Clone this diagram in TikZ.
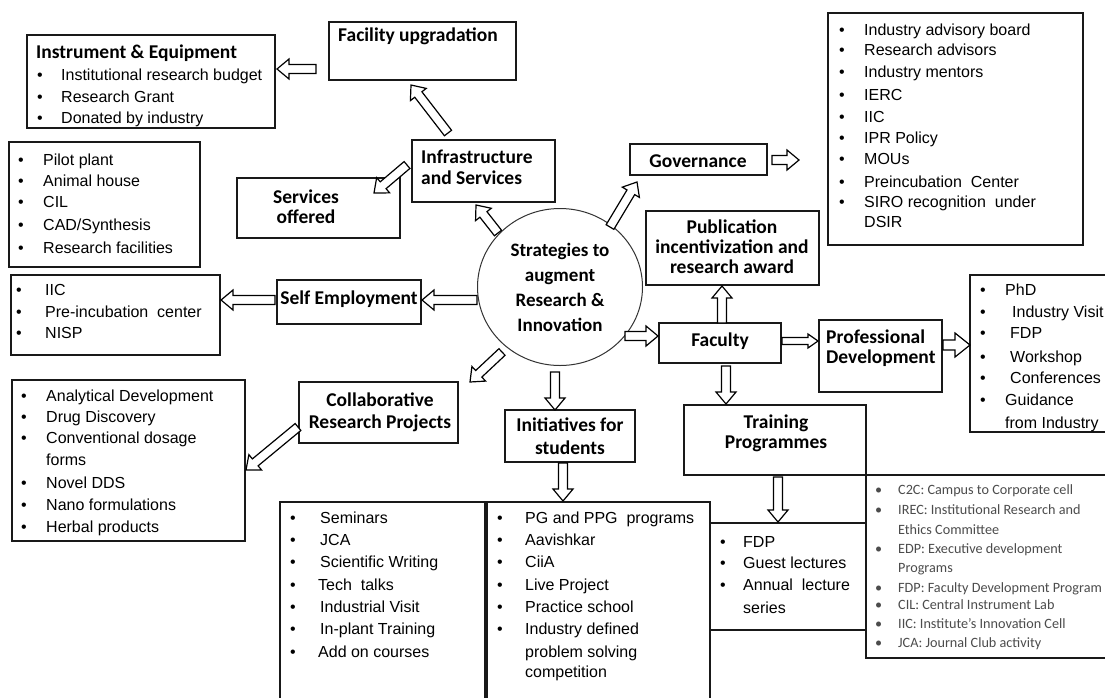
\documentclass[tikz,border=0pt]{standalone}
\usepackage{fontspec}
\setmainfont{Liberation Sans}
\newfontfamily\calib{Carlito}
\usetikzlibrary{calc,shapes.geometric,fit}
\tikzset{
 box/.style={draw=black!90, line width=1.3pt, inner sep=0pt},
 hd/.style={anchor=base, inner sep=0pt, font=\calib\bfseries\fontsize{19.5}{22}\selectfont},
 hdl/.style={hd, anchor=base west},
 itx/.style={anchor=base west, inner sep=0pt, font=\fontsize{16}{19}\selectfont},
 abx/.style={anchor=base west, inner sep=0pt, font=\calib\fontsize{14.2}{17}\selectfont, text=black!70},
 blk/.style={draw=black, line width=1.2pt, fill=white, line join=miter},
}
\newcommand\barrowx[5]{%
 \coordinate (bh) at ($(#5)!#3!(#4)$);
 \draw[blk] ($(#4)!#1!90:(#5)$) -- ($(bh)!#1!90:(#5)$) -- ($(bh)!#2!90:(#5)$) -- (#5)
   -- ($(bh)!#2!-90:(#5)$) -- ($(bh)!#1!-90:(#5)$) -- ($(#4)!#1!-90:(#5)$) -- cycle;}
\newcommand\barrow[2]{\barrowx{4.5pt}{10pt}{12pt}{#1}{#2}}
\newcommand\itm[4]{\node[itx] at (#1,#3+5.5) {\textbullet}; \node[itx] at (#2,#3+5.5) {#4};}
\newcommand\ab[2]{\node[abx] at (875,#1+4.5) {\textbullet}; \node[abx] at (898,#1+4.5) {#2};}
\newcommand\abn[2]{\node[abx] at (898,#1+4.5) {#2};}
\newcommand\txt[3]{\node[itx] at (#1,#2+5.5) {#3};}
\begin{document}
\begin{tikzpicture}[x=1pt,y=-1pt]
\useasboundingbox (0,0) rectangle (1105,697);
\clip (0,0) rectangle (1105,697);
\fill[white] (0,0) rectangle (1105,697);

% ---------- boxes ----------
\node[box, fit={(27,35) (275,128)}] (instr) {};
\node[box, fit={(329,22) (516,80)}] (facility) {};
\node[box, fit={(412,140) (555,202)}] (infra) {};
\node[box, fit={(9,142) (200,267)}] (pilot) {};
\node[box, fit={(237,178) (400,238)}] (services) {};
\node[box, fit={(828,13) (1083,245)}] (govlist) {};
\node[box, fit={(630,144) (767,175)}] (gov) {};
\node[box, fit={(646,211) (819,285)}] (pub) {};
\node[box, fit={(277,280) (421,324)}] (selfemp) {};
\node[box, fit={(11,275) (220,355)}] (iic) {};
\node[box, fit={(299,382) (458,443)}] (collab) {};
\node[box, fit={(12,380) (245,541)}] (anal) {};
\node[box, fit={(659,323) (781,363)}] (fac) {};
\node[box, fit={(819,320) (942,392)}] (prof) {};
\node[box, fit={(970,275) (1120,432)}] (phd) {};
\node[box, fit={(684,405) (866,475)}] (train) {};
\node[box, fit={(866,475) (1120,658)}] (abbr) {};
\node[box, fit={(505,410) (635,462)}] (init) {};
\node[box, fit={(280,502) (485,710)}] (sem) {};
\node[box, fit={(487,502) (710,710)}] (pg) {};
\node[box, fit={(710,523) (866,630)}] (fdp) {};

% ---------- centre ----------
\node[draw=black!80, line width=1pt, ellipse, minimum width=165pt, minimum height=157pt, inner sep=0pt,
  align=center, font=\calib\bfseries\fontsize{19}{25}\selectfont] (core) at (560,287)
  {Strategies to\\augment\\Research \&\\Innovation};

% ---------- headings ----------
\node[hdl] (tinstr) at (36,52+6) {Instrument \& Equipment};
\node[hdl] (tfac) at (338,35+6) {Facility upgradation};
\node[hdl] (tinfra1) at (421,157+6) {Infrastructure};
\node[hdl] (tinfra2) at (421,178+6) {and Services};
\node[hd] (tserv1) at (306,197+6) {Services};
\node[hd] (tserv2) at (306,217+6) {offered};
\node[hd] (tgov) at (698,161+6) {Governance};
\node[hd] (tpub1) at (732,227+6) {Publication};
\node[hd] (tpub2) at (732,247+6) {incentivization and};
\node[hd] (tpub3) at (732,267+6) {research award};
\node[hd] (tself) at (349,298+6) {Self Employment};
\node[hd] (tcol1) at (380,400+6) {Collaborative};
\node[hd] (tcol2) at (380,422+6) {Research Projects};
\node[hd] (tini1) at (570,425+6) {Initiatives for};
\node[hd] (tini2) at (570,448+6) {students};
\node[hd] (tfacu) at (720,340+6) {Faculty};
\node[hdl] (tprof1) at (826,337+6) {Professional};
\node[hdl] (tprof2) at (826,357+6) {Development};
\node[hd] (ttr1) at (776,422+6) {Training};
\node[hd] (ttr2) at (776,442+6) {Programmes};

% ---------- lists ----------
\itm{37}{61}{75}{Institutional research budget}
\itm{37}{61}{97}{Research Grant}
\itm{37}{61}{118}{Donated by industry}

\itm{18}{43}{160}{Pilot plant}
\itm{18}{43}{181}{Animal house}
\itm{18}{43}{202}{CIL}
\itm{18}{43}{225}{CAD/Synthesis}
\itm{18}{43}{248}{Research facilities}

\itm{839}{864}{30}{Industry advisory board}
\itm{839}{864}{50}{Research advisors}
\itm{839}{864}{72}{Industry mentors}
\itm{839}{864}{95}{IERC}
\itm{839}{864}{117}{IIC}
\itm{839}{864}{138}{IPR Policy}
\itm{839}{864}{159}{MOUs}
\itm{839}{864}{182}{Preincubation\ \ Center}
\itm{839}{864}{202}{SIRO recognition\ \ under}
\txt{864}{222}{DSIR}

\itm{16}{45}{290}{IIC}
\itm{16}{45}{312}{Pre-incubation\ \ center}
\itm{16}{45}{333}{NISP}

\itm{21}{46}{396}{Analytical Development}
\itm{21}{46}{417}{Drug Discovery}
\itm{21}{46}{438}{Conventional dosage}
\txt{46}{460}{forms}
\itm{21}{46}{483}{Novel DDS}
\itm{21}{46}{505}{Nano formulations}
\itm{21}{46}{527}{Herbal products}

\itm{980}{1005}{290}{PhD}
\itm{980}{1012}{312}{Industry Visit}
\itm{980}{1010}{333}{FDP}
\itm{980}{1010}{357}{Workshop}
\itm{980}{1010}{378}{Conferences}
\itm{980}{1005}{400}{Guidance}
\txt{1005}{423}{from Industry}

\itm{290}{320}{518}{Seminars}
\itm{290}{320}{540}{JCA}
\itm{290}{320}{562}{Scientific Writing}
\itm{290}{318}{585}{Tech\ \ talks}
\itm{290}{320}{607}{Industrial Visit}
\itm{290}{320}{629}{In-plant Training}
\itm{290}{318}{652}{Add on courses}

\itm{497}{525}{518}{PG and PPG\ \ programs}
\itm{497}{525}{540}{Aavishkar}
\itm{497}{525}{562}{CiiA}
\itm{497}{525}{585}{Live Project}
\itm{497}{525}{607}{Practice school}
\itm{497}{525}{629}{Industry defined}
\txt{525}{652}{problem solving}
\txt{525}{672}{competition}

\itm{720}{743}{542}{FDP}
\itm{720}{743}{563}{Guest lectures}
\itm{720}{743}{585}{Annual\ \ lecture}
\txt{743}{608}{series}

\ab{490}{C2C: Campus to Corporate cell}
\ab{510}{IREC: Institutional Research and}
\abn{530}{Ethics Committee}
\ab{549}{EDP: Executive development}
\abn{568}{Programs}
\ab{588}{FDP: Faculty Development Program}
\ab{605}{CIL: Central Instrument Lab}
\ab{624}{IIC: Institute’s Innovation Cell}
\ab{643}{JCA: Journal Club activity}

% ---------- arrows ----------
\coordinate (a1s) at (316,69);  \coordinate (a1e) at (277,69);
\coordinate (a2s) at (448,133); \coordinate (a2e) at (411,85);
\coordinate (a3s) at (407,165); \coordinate (a3e) at (374,193);
\coordinate (a4s) at (498,233); \coordinate (a4e) at (476,205);
\coordinate (a5s) at (610,227); \coordinate (a5e) at (637,182);
\coordinate (a6s) at (772,160); \coordinate (a6e) at (799,160);
\coordinate (a7s) at (477,300); \coordinate (a7e) at (422,300);
\coordinate (a8s) at (275,300); \coordinate (a8e) at (221,300);
\coordinate (a9s) at (502,352); \coordinate (a9e) at (470,382);
\coordinate (a10s) at (298,427); \coordinate (a10e) at (246,470);
\coordinate (a11s) at (555,372); \coordinate (a11e) at (555,410);
\coordinate (a12s) at (563,463); \coordinate (a12e) at (563,501);
\coordinate (a13s) at (625,336); \coordinate (a13e) at (658,336);
\coordinate (a14s) at (722,323); \coordinate (a14e) at (722,286);
\coordinate (a15s) at (782,341); \coordinate (a15e) at (818,341);
\coordinate (a16s) at (943,345); \coordinate (a16e) at (970,345);
\coordinate (a17s) at (726,366); \coordinate (a17e) at (726,404);
\coordinate (a18s) at (778,477); \coordinate (a18e) at (778,522);

\barrow{a1s}{a1e}
\barrow{a2s}{a2e}
\barrow{a3s}{a3e}
\barrow{a4s}{a4e}
\barrow{a5s}{a5e}
\barrow{a6s}{a6e}
\barrow{a7s}{a7e}
\barrow{a8s}{a8e}
\barrow{a9s}{a9e}
\barrow{a10s}{a10e}
\barrow{a11s}{a11e}
\barrow{a12s}{a12e}
\barrow{a13s}{a13e}
\barrow{a14s}{a14e}
\barrowx{3.5pt}{7pt}{10pt}{a15s}{a15e}
\barrowx{5pt}{12pt}{15pt}{a16s}{a16e}
\barrow{a17s}{a17e}
\barrow{a18s}{a18e}
\end{tikzpicture}
\end{document}
